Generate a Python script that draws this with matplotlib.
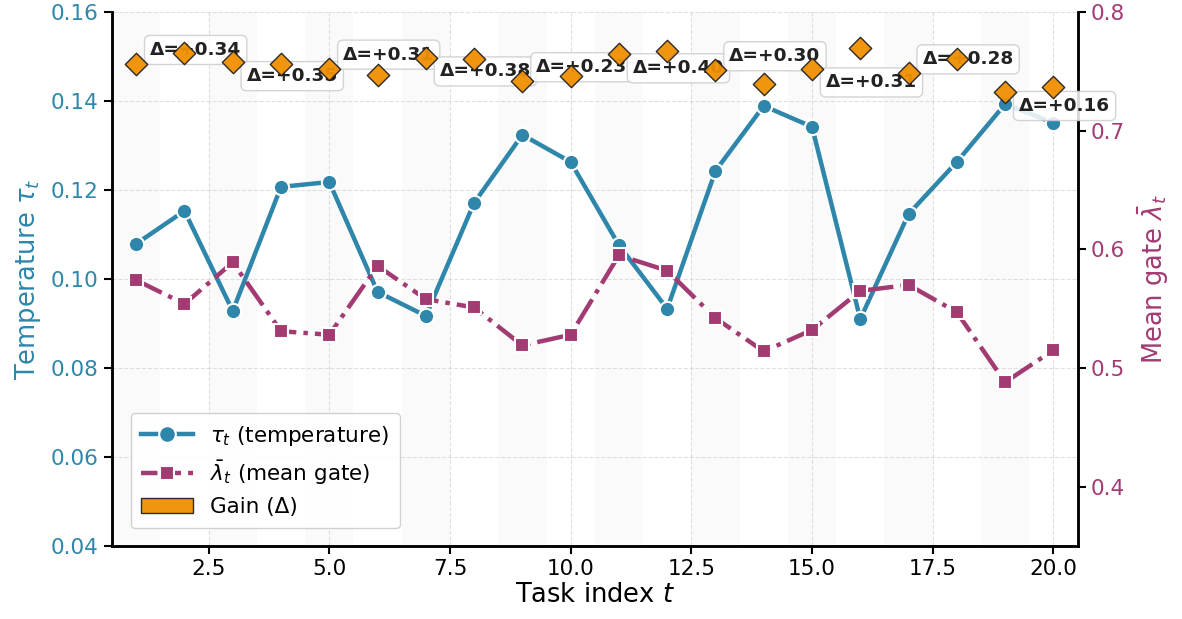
import numpy as np
import matplotlib
matplotlib.use("Agg")
import matplotlib.pyplot as plt
from matplotlib.lines import Line2D
from matplotlib.patches import Patch

# data
tasks = list(range(1, 21))
tau = [0.1079, 0.1153, 0.0928, 0.1207, 0.1218, 0.0971, 0.0917, 0.1171, 0.1324, 0.1263,
       0.1076, 0.0933, 0.1243, 0.1389, 0.1342, 0.0910, 0.1146, 0.1263, 0.1393, 0.1351]
gate = [0.574, 0.554, 0.589, 0.531, 0.528, 0.586, 0.558, 0.551, 0.519, 0.528,
        0.595, 0.582, 0.542, 0.514, 0.532, 0.565, 0.570, 0.547, 0.488, 0.515]
gain = [0.34, 0.41, 0.35, 0.34, 0.31, 0.27, 0.38, 0.37, 0.23, 0.26,
        0.40, 0.42, 0.30, 0.21, 0.31, 0.44, 0.28, 0.37, 0.16, 0.19]

c_tau = '#2E86AB'
c_gate = '#A23B72'
c_gain = '#F18F01'

plt.rcParams['font.family'] = 'DejaVu Sans'
fig = plt.figure(figsize=(11.82, 6.19), dpi=100)
ax = fig.add_axes([0.0948, 0.118, 0.8168, 0.8626])
ax2 = ax.twinx()
ax3 = ax.twinx()

# alternating background bands
for t in tasks:
    if t % 2 == 1:
        ax.axvspan(t - 0.5, t + 0.5, color='gray', alpha=0.04, lw=0, zorder=0)

ax.plot(tasks, tau, '-', color=c_tau, lw=3.2, marker='o', markersize=11,
        markeredgecolor='white', markeredgewidth=1.5, zorder=3)
ax2.plot(tasks, gate, '-.', color=c_gate, lw=3.2, marker='s', markersize=9.5,
         markeredgecolor='white', markeredgewidth=1.5, zorder=3)
ax3.scatter(tasks, gain, marker='D', s=130, color=c_gain, edgecolor='#222222',
            linewidth=1, alpha=0.95, zorder=5)

# labels on every other task, alternating above / below
for k, t in enumerate(tasks[::2]):
    g = gain[t - 1]
    dy = 10 if k % 2 == 0 else -10
    ax3.annotate(f'Δ=+{g:.2f}', (t, g), xytext=(10, dy), textcoords='offset points',
                 ha='left', va='center', fontsize=13.3, fontweight='bold', color='#222222',
                 bbox=dict(boxstyle='round,pad=0.3', fc='white', ec='#cccccc', alpha=0.85),
                 zorder=4)

ax.set_xlim(0.5, 20.5)
ax.set_ylim(0.04, 0.16)
ax2.set_ylim(0.35, 0.8)
ax3.set_ylim(-2.73, 0.67)
ax.set_yticks(np.arange(0.04, 0.161, 0.02))
ax2.set_yticks([0.4, 0.5, 0.6, 0.7, 0.8])

ax.grid(True, linestyle='--', color='#cccccc', alpha=0.6, lw=0.8)
ax.set_axisbelow(True)

ax.set_xlabel('Task index $t$', fontsize=18.5, labelpad=2)
ax.set_ylabel(r'Temperature $\tau_t$', fontsize=18.5, color=c_tau, labelpad=6)
ax2.set_ylabel(r'Mean gate $\bar{\lambda}_t$', fontsize=18.5, color=c_gate, labelpad=8)

ax.tick_params(axis='x', labelsize=15.5, length=6, width=1.5)
ax.tick_params(axis='y', labelsize=15.5, length=6, width=1.5, labelcolor=c_tau)
ax2.tick_params(axis='y', labelsize=15.5, length=6, width=1.5, labelcolor=c_gate)

for a in (ax, ax2, ax3):
    a.spines['top'].set_visible(False)
    for s in ('left', 'right', 'bottom'):
        a.spines[s].set_linewidth(1.8)
ax3.axis('off')

handles = [
    Line2D([], [], color=c_tau, lw=3.2, marker='o', markersize=12,
           markeredgecolor='white', markeredgewidth=1.5),
    Line2D([], [], color=c_gate, lw=3.2, ls='--', marker='s', markersize=10,
           markeredgecolor='white', markeredgewidth=1.5),
    Patch(facecolor=c_gain, edgecolor='#222222', alpha=0.95),
]
labels = [r'$\tau_t$ (temperature)', r'$\bar{\lambda}_t$ (mean gate)', 'Gain (Δ)']
leg = ax3.legend(handles, labels, loc='lower left', fontsize=15.5, frameon=True,
                 fancybox=True, framealpha=0.9, edgecolor='#cccccc',
                 handlelength=2.4, borderpad=0.5,
                 bbox_to_anchor=(0.008, 0.013))
leg.set_zorder(10)

fig.savefig('out.png', dpi=100)
